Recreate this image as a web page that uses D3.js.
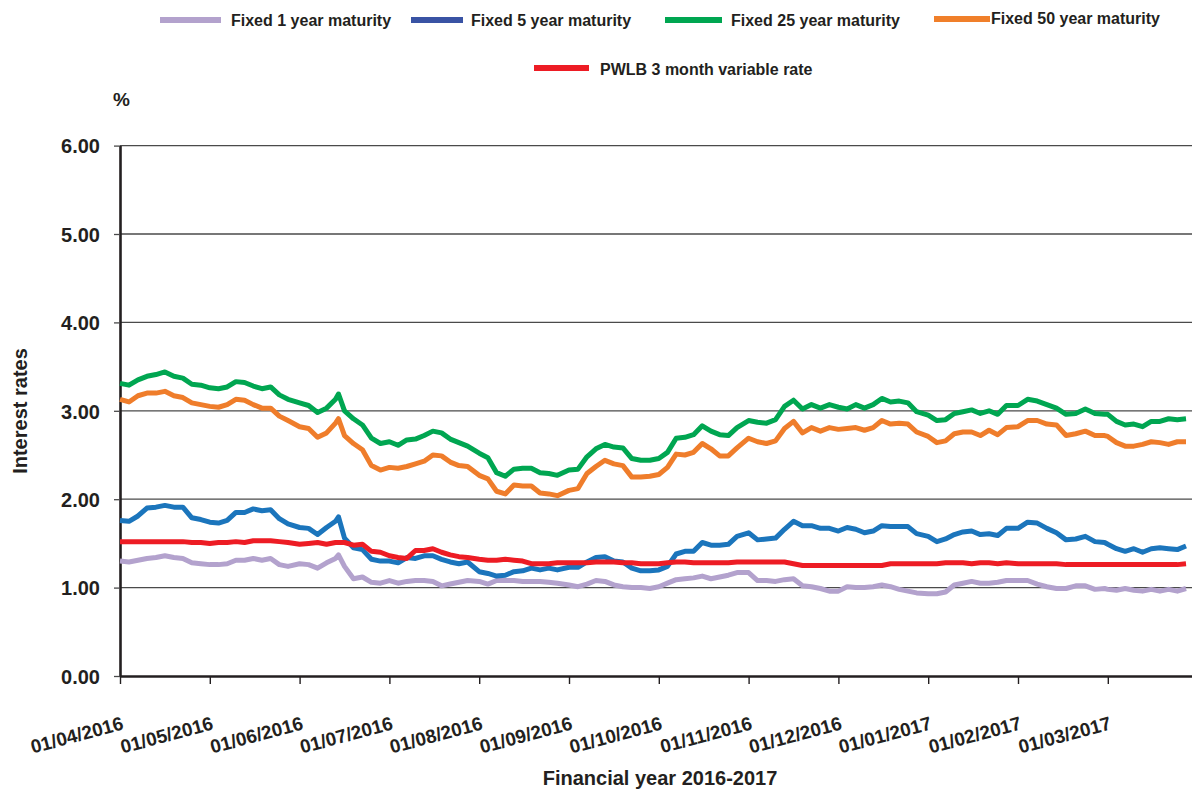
<!DOCTYPE html>
<html>
<head>
<meta charset="utf-8">
<script src="https://cdn.jsdelivr.net/npm/d3@7"></script>
<style>
  html, body { margin: 0; padding: 0; background: #fff; }
  svg text { font-family: "Liberation Sans", Arial, Helvetica, sans-serif; font-weight: bold; fill: #231f20; }
</style>
</head>
<body>
<svg id="chart" width="1192" height="792"></svg>
<script>
// ---------------- DATA ----------------
const monthStarts = ["2016-04-01","2016-05-01","2016-06-01","2016-07-01","2016-08-01","2016-09-01",
  "2016-10-01","2016-11-01","2016-12-01","2017-01-01","2017-02-01","2017-03-01","2017-04-01"];

const yTicks = [0, 1, 2, 3, 4, 5, 6];

const seriesNames = ["Fixed 1 year maturity","Fixed 5 year maturity","Fixed 25 year maturity",
  "Fixed 50 year maturity","PWLB 3 month variable rate"];

const dates = [
 "2016-04-01","2016-04-04","2016-04-07","2016-04-10","2016-04-13","2016-04-16","2016-04-19","2016-04-22","2016-04-25","2016-04-28",
 "2016-05-01","2016-05-04","2016-05-07","2016-05-10","2016-05-13","2016-05-16","2016-05-19","2016-05-22","2016-05-25","2016-05-28",
 "2016-06-01","2016-06-04","2016-06-07","2016-06-10","2016-06-13","2016-06-14","2016-06-16","2016-06-19","2016-06-22","2016-06-25","2016-06-28",
 "2016-07-01","2016-07-04","2016-07-07","2016-07-10","2016-07-13","2016-07-16","2016-07-19","2016-07-22","2016-07-25","2016-07-28",
 "2016-08-01","2016-08-04","2016-08-07","2016-08-10","2016-08-13","2016-08-16","2016-08-19","2016-08-22","2016-08-25","2016-08-28",
 "2016-09-01","2016-09-04","2016-09-07","2016-09-10","2016-09-13","2016-09-16","2016-09-19","2016-09-22","2016-09-25","2016-09-28",
 "2016-10-01","2016-10-04","2016-10-07","2016-10-10","2016-10-13","2016-10-16","2016-10-19","2016-10-22","2016-10-25","2016-10-28",
 "2016-11-01","2016-11-04","2016-11-07","2016-11-10","2016-11-13","2016-11-16","2016-11-19","2016-11-22","2016-11-25","2016-11-28",
 "2016-12-01","2016-12-04","2016-12-07","2016-12-10","2016-12-13","2016-12-16","2016-12-19","2016-12-22","2016-12-25","2016-12-28",
 "2017-01-01","2017-01-04","2017-01-07","2017-01-10","2017-01-13","2017-01-16","2017-01-19","2017-01-22","2017-01-25","2017-01-28",
 "2017-02-01","2017-02-04","2017-02-07","2017-02-10","2017-02-13","2017-02-16","2017-02-19","2017-02-22","2017-02-25","2017-02-28",
 "2017-03-01","2017-03-04","2017-03-07","2017-03-10","2017-03-13","2017-03-16","2017-03-19","2017-03-22","2017-03-25","2017-03-28"
];

const fixed1 = [
 1.30,1.29,1.31,1.33,1.34,1.36,1.34,1.33,1.28,1.27,
 1.26,1.26,1.27,1.31,1.31,1.33,1.31,1.33,1.26,1.24,
 1.27,1.26,1.22,1.28,1.33,1.37,1.24,1.10,1.12,1.06,1.05,
 1.08,1.05,1.07,1.08,1.08,1.07,1.02,1.04,1.06,1.08,
 1.07,1.04,1.08,1.08,1.08,1.07,1.07,1.07,1.06,1.05,
 1.03,1.01,1.04,1.08,1.07,1.03,1.01,1.00,1.00,0.99,
 1.01,1.05,1.09,1.10,1.11,1.13,1.10,1.12,1.14,1.17,
 1.17,1.08,1.08,1.07,1.09,1.10,1.02,1.01,0.99,0.96,
 0.96,1.01,1.00,1.00,1.01,1.03,1.01,0.98,0.96,0.94,
 0.93,0.93,0.95,1.03,1.05,1.07,1.05,1.05,1.06,1.08,
 1.08,1.08,1.04,1.01,0.99,0.99,1.02,1.02,0.98,0.99,
 0.98,0.97,0.99,0.97,0.96,0.98,0.96,0.98,0.96,0.99
];

const fixed5 = [
 1.76,1.75,1.81,1.90,1.91,1.93,1.91,1.91,1.79,1.77,
 1.74,1.73,1.76,1.85,1.85,1.89,1.87,1.88,1.78,1.72,
 1.68,1.67,1.60,1.68,1.75,1.80,1.56,1.45,1.43,1.32,1.30,
 1.30,1.28,1.34,1.33,1.36,1.36,1.32,1.29,1.27,1.29,
 1.18,1.16,1.13,1.14,1.18,1.19,1.22,1.20,1.22,1.20,
 1.23,1.23,1.29,1.34,1.35,1.30,1.29,1.22,1.19,1.19,
 1.20,1.24,1.38,1.41,1.41,1.51,1.48,1.48,1.49,1.58,
 1.62,1.54,1.55,1.56,1.66,1.75,1.70,1.70,1.67,1.67,
 1.64,1.68,1.66,1.62,1.64,1.70,1.69,1.69,1.69,1.61,
 1.58,1.52,1.55,1.60,1.63,1.64,1.60,1.61,1.59,1.67,
 1.67,1.74,1.73,1.67,1.62,1.54,1.55,1.58,1.52,1.51,
 1.49,1.44,1.41,1.44,1.40,1.44,1.45,1.44,1.43,1.47
];

const fixed25 = [
 3.31,3.29,3.35,3.39,3.41,3.44,3.39,3.37,3.30,3.29,
 3.26,3.25,3.27,3.33,3.32,3.28,3.25,3.27,3.18,3.13,
 3.09,3.06,2.98,3.03,3.13,3.19,3.00,2.91,2.84,2.69,2.63,
 2.65,2.61,2.67,2.68,2.72,2.77,2.75,2.68,2.64,2.60,
 2.52,2.47,2.30,2.26,2.34,2.35,2.35,2.30,2.29,2.27,
 2.33,2.34,2.48,2.57,2.62,2.59,2.58,2.46,2.44,2.44,
 2.46,2.53,2.69,2.70,2.73,2.83,2.77,2.73,2.72,2.81,
 2.89,2.87,2.86,2.90,3.05,3.12,3.02,3.07,3.03,3.07,
 3.04,3.02,3.07,3.03,3.07,3.14,3.10,3.11,3.09,2.99,
 2.95,2.89,2.90,2.97,2.99,3.01,2.97,3.00,2.96,3.06,
 3.06,3.13,3.11,3.07,3.03,2.96,2.97,3.02,2.97,2.96,
 2.96,2.88,2.84,2.85,2.82,2.88,2.88,2.91,2.90,2.91
];

const fixed50 = [
 3.13,3.10,3.17,3.20,3.20,3.22,3.17,3.15,3.09,3.07,
 3.05,3.04,3.07,3.13,3.12,3.07,3.03,3.03,2.94,2.89,
 2.82,2.80,2.70,2.75,2.86,2.91,2.72,2.63,2.56,2.38,2.33,
 2.36,2.35,2.37,2.40,2.43,2.50,2.49,2.42,2.38,2.37,
 2.27,2.23,2.09,2.06,2.16,2.15,2.15,2.07,2.06,2.04,
 2.10,2.12,2.29,2.37,2.44,2.40,2.38,2.25,2.25,2.26,
 2.28,2.36,2.51,2.50,2.53,2.63,2.57,2.49,2.49,2.58,
 2.69,2.65,2.63,2.66,2.80,2.88,2.75,2.81,2.77,2.81,
 2.79,2.80,2.81,2.78,2.81,2.89,2.85,2.86,2.85,2.76,
 2.71,2.64,2.66,2.74,2.76,2.76,2.72,2.78,2.73,2.81,
 2.82,2.89,2.89,2.85,2.84,2.72,2.74,2.77,2.72,2.72,
 2.71,2.64,2.60,2.60,2.62,2.65,2.64,2.62,2.65,2.65
];

const pwlb3m = [
 1.52,1.52,1.52,1.52,1.52,1.52,1.52,1.52,1.51,1.51,
 1.50,1.51,1.51,1.52,1.51,1.53,1.53,1.53,1.52,1.51,
 1.49,1.50,1.51,1.49,1.51,1.51,1.51,1.48,1.49,1.41,1.40,
 1.36,1.34,1.33,1.42,1.42,1.44,1.40,1.37,1.35,1.34,
 1.32,1.31,1.31,1.32,1.31,1.30,1.27,1.27,1.27,1.28,
 1.28,1.28,1.28,1.29,1.29,1.29,1.28,1.28,1.27,1.27,
 1.27,1.28,1.29,1.29,1.28,1.28,1.28,1.28,1.28,1.29,
 1.29,1.29,1.29,1.29,1.29,1.27,1.25,1.25,1.25,1.25,
 1.25,1.25,1.25,1.25,1.25,1.25,1.27,1.27,1.27,1.27,
 1.27,1.27,1.28,1.28,1.28,1.27,1.28,1.28,1.27,1.28,
 1.27,1.27,1.27,1.27,1.27,1.26,1.26,1.26,1.26,1.26,
 1.26,1.26,1.26,1.26,1.26,1.26,1.26,1.26,1.26,1.27
];

// ---------------- LAYOUT / STYLE ----------------
const W = 1192, H = 792;
const plot = { left: 120, right: 1192, top: 145.6, bottom: 676 };
const monthW = 89.8;
const lineColors = ["#b3a2cd", "#1b75bc", "#00a651", "#ef7d2b", "#ed1c24"];
const legendColors = ["#b3a2cd", "#3953a4", "#00a651", "#f07f2a", "#ed1c24"];
const legendLayout = [
  { x1: 160, x2: 221, y: 20, tx: 231, ty: 26 },
  { x1: 411, x2: 463, y: 20, tx: 471, ty: 26 },
  { x1: 665, x2: 722, y: 20, tx: 731, ty: 26 },
  { x1: 934, x2: 990, y: 19, tx: 991, ty: 24 },
  { x1: 534, x2: 589, y: 68, tx: 600, ty: 75 }
];

const parse = d3.timeParse("%Y-%m-%d");
const fmt = d3.timeFormat("%d/%m/%Y");
const monthDates = monthStarts.map(parse);

const x = d3.scaleTime()
  .domain(monthDates)
  .range(monthDates.map((d, i) => plot.left + i * monthW));
const y = d3.scaleLinear().domain([0, 6]).range([plot.bottom, plot.top]);

const svg = d3.select("#chart");

// gridlines
svg.append("g").selectAll("line")
  .data(yTicks.filter(v => v > 0))
  .join("line")
  .attr("x1", plot.left).attr("x2", plot.right)
  .attr("y1", d => y(d)).attr("y2", d => y(d))
  .attr("stroke", "#4a4a4a").attr("stroke-width", 1.3);

// y axis
const yAxis = svg.append("g")
  .attr("transform", `translate(${plot.left},0)`)
  .call(d3.axisLeft(y).tickValues(yTicks).tickFormat(d3.format(".2f")).tickSize(6).tickSizeOuter(0).tickPadding(14));
yAxis.select(".domain").attr("stroke", "#231f20").attr("stroke-width", 2.6);
yAxis.selectAll(".tick line").attr("stroke", "#4a4a4a").attr("stroke-width", 1.3);
yAxis.selectAll(".tick text").attr("font-size", 20).style("font-family", "'Liberation Sans', Arial, sans-serif").attr("dy", "0.36em");

// x axis
const xAxis = svg.append("g")
  .attr("transform", `translate(0,${plot.bottom})`)
  .call(d3.axisBottom(x).tickValues(monthDates.slice(0, 12)).tickFormat(fmt).tickSize(8).tickSizeOuter(0));
xAxis.select(".domain").attr("stroke", "#231f20").attr("stroke-width", 2.6);
xAxis.selectAll(".tick line").attr("stroke", "#231f20").attr("stroke-width", 1.4);
xAxis.selectAll(".tick text")
  .attr("font-size", 19)
  .style("font-family", "'Liberation Sans', Arial, sans-serif")
  .attr("y", 0).attr("dy", 0)
  .attr("text-anchor", "end")
  .attr("transform", "translate(4,53) rotate(-15)");

// lines
const allSeries = [fixed1, fixed5, fixed25, fixed50, pwlb3m];
const line = d3.line()
  .x((d, i) => x(parse(dates[i])))
  .y(d => y(d));

svg.append("g").selectAll("path")
  .data(allSeries)
  .join("path")
  .attr("d", d => line(d))
  .attr("fill", "none")
  .attr("stroke", (d, i) => lineColors[i])
  .attr("stroke-width", 5)
  .attr("stroke-linejoin", "round")
  .attr("stroke-linecap", "butt");

// legend
const lg = svg.append("g");
seriesNames.forEach((name, i) => {
  const L = legendLayout[i];
  lg.append("line")
    .attr("x1", L.x1).attr("x2", L.x2).attr("y1", L.y).attr("y2", L.y)
    .attr("stroke", legendColors[i]).attr("stroke-width", 6);
  lg.append("text")
    .attr("x", L.tx).attr("y", L.ty)
    .attr("font-size", 16)
    .text(name);
});

// unit label
svg.append("text").attr("x", 113).attr("y", 106).attr("font-size", 19).text("%");

// axis titles
svg.append("text")
  .attr("x", 660).attr("y", 785)
  .attr("text-anchor", "middle")
  .attr("font-size", 20)
  .text("Financial year 2016-2017");

svg.append("text")
  .attr("transform", "translate(27,411) rotate(-90)")
  .attr("text-anchor", "middle")
  .attr("font-size", 20)
  .text("Interest rates");
</script>
</body>
</html>
